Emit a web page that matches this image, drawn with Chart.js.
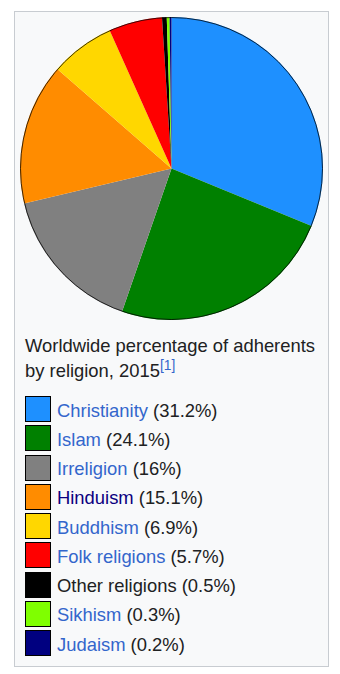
<!DOCTYPE html>
<html>
<head>
<meta charset="utf-8">
<script src="https://cdn.jsdelivr.net/npm/chart.js@4"></script>
<style>
    html, body { margin: 0; padding: 0; background: #fff; }
    body { width: 340px; height: 674px; position: relative; overflow: hidden;
           font-family: "Liberation Sans", Arial, sans-serif; color: #202122; }
    #caixa { position: absolute; left: 14px; top: 11px; width: 315px; height: 656px;
             box-sizing: border-box; border: 1px solid #c8ccd1; background: #f8f9fa; }
    #areaGrafico { position: absolute; left: 20px; top: 17px; width: 303px; height: 303px; }
    #legenda-titulo { position: absolute; left: 25px; top: 332.5px; width: 300px;
                      font-size: 18.4px; line-height: 25.4px; }
    #legenda-titulo sup { font-size: 75%; vertical-align: baseline; position: relative;
                          top: -0.5em; color: #3366cc; }
    #legenda { position: absolute; left: 25px; top: 395.5px; }
    .item { height: 29.25px; line-height: 29.25px; font-size: 18.4px; white-space: nowrap; position: relative; }
    .quadro { position: absolute; left: 0; top: 0.5px; width: 26px; height: 26px;
              box-sizing: border-box; border: 1px solid #000; }
    .texto { position: absolute; left: 32px; top: 0; }
    .link { color: #3366cc; }
    .visitado { color: #0b0080; }
</style>
</head>
<body>
<div id="caixa"></div>
<div id="areaGrafico"><canvas id="graficoReligiao" width="303" height="303"></canvas></div>
<div id="legenda-titulo">Worldwide percentage of adherents by religion, 2015<sup>[1]</sup></div>
<div id="legenda"></div>

<script>
"use strict";

/* Dados */
const religioes = ["Christianity", "Islam", "Irreligion", "Hinduism", "Buddhism",
                   "Folk religions", "Other religions", "Sikhism", "Judaism"];

const percentuais = [31.2, 24.1, 16, 15.1, 6.9, 5.7, 0.5, 0.3, 0.2];

const cores = ["#1E90FF", "#008000", "#808080", "#FF8C00", "#FFD700",
               "#FF0000", "#000000", "#7FFF00", "#000080"];

// estilo do texto de cada item: link, visitado ou texto comum
const tiposLink = ["link", "link", "link", "visitado", "link", "link", "", "link", "link"];

/* Contorno externo da pizza */
const contornoPizza = {
    id: "contornoPizza",
    afterDatasetsDraw(chart) {
        const arco = chart.getDatasetMeta(0).data[0];
        if (!arco) return;
        const ctx = chart.ctx;
        ctx.save();
        ctx.beginPath();
        ctx.arc(arco.x, arco.y, arco.outerRadius - 0.5, 0, Math.PI * 2);
        ctx.strokeStyle = "rgba(0,0,0,0.75)";
        ctx.lineWidth = 1;
        ctx.stroke();
        ctx.restore();
    }
};

const grafico = new Chart(document.getElementById("graficoReligiao"), {
    type: "pie",
    data: {
        labels: religioes,
        datasets: [{
            data: percentuais,
            backgroundColor: cores,
            borderWidth: 0
        }]
    },
    options: {
        responsive: false,
        animation: false,
        devicePixelRatio: 1,
        layout: { padding: 0 },
        plugins: {
            legend: { display: false },
            tooltip: { enabled: false }
        }
    },
    plugins: [contornoPizza]
});

/* Legenda em HTML a partir dos dados do gráfico */
const legenda = document.getElementById("legenda");

grafico.data.labels.forEach((nome, i) => {
    const item = document.createElement("div");
    item.className = "item";

    const quadro = document.createElement("span");
    quadro.className = "quadro";
    quadro.style.background = grafico.data.datasets[0].backgroundColor[i];

    const texto = document.createElement("span");
    texto.className = "texto";

    const rotulo = document.createElement("span");
    if (tiposLink[i]) rotulo.className = tiposLink[i];
    rotulo.textContent = nome;

    texto.appendChild(rotulo);
    texto.appendChild(document.createTextNode(" (" + grafico.data.datasets[0].data[i] + "%)"));

    item.appendChild(quadro);
    item.appendChild(texto);
    legenda.appendChild(item);
});
</script>
</body>
</html>
